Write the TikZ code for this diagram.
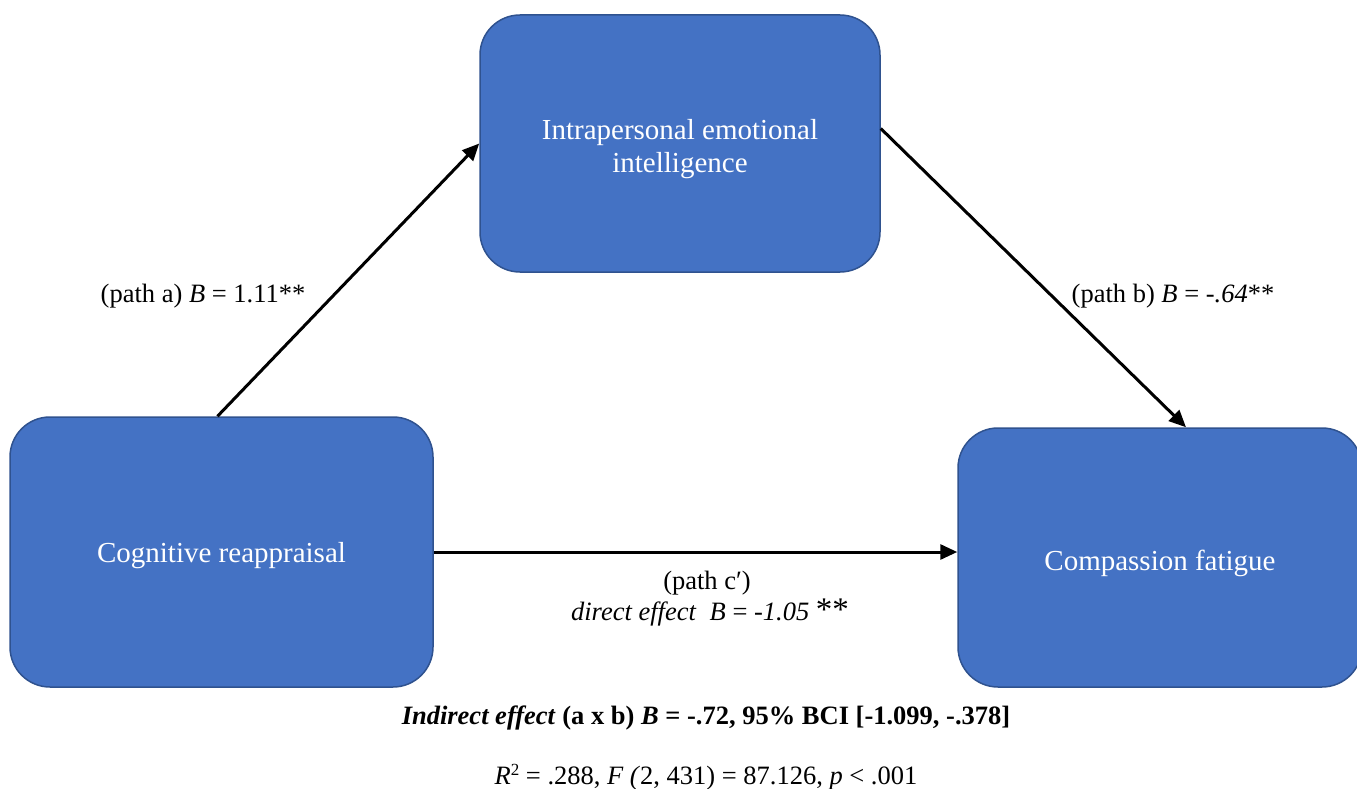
\documentclass[tikz,border=0pt]{standalone}
\usepackage{fontspec}
\setmainfont{Liberation Serif}
\usetikzlibrary{arrows.meta,calc}
\definecolor{boxfill}{HTML}{4472C4}
\definecolor{boxline}{HTML}{2F528F}
\begin{document}
\begin{tikzpicture}[x=1pt,y=-1pt,
  varbox/.style={draw=boxline, line width=1.5pt, fill=boxfill, rounded corners=40pt,
    inner sep=0pt},
  boxtext/.style={text=white, font=\fontsize{29}{33}\selectfont, align=center, inner sep=0pt},
  path arrow/.style={line width=3pt, -{Triangle[length=17pt,width=15pt]}},
  lbl/.style={font=\fontsize{26.5}{30}\selectfont, inner sep=0pt}]
\useasboundingbox (0,0) rectangle (1357,789);

% variables
\node[varbox, minimum width=400pt, minimum height=257pt] (med) at (680,143.5) {};
\node[varbox, minimum width=423pt, minimum height=270pt] (pred) at (221.5,552) {};
\node[varbox, minimum width=404pt, minimum height=259pt] (out) at (1160,557.5) {};
\node[boxtext] (medtext) at ([yshift=-6pt]med.center) {Intrapersonal emotional\\intelligence};
\node[boxtext] (predtext) at ([yshift=-4pt]pred.center) {Cognitive reappraisal};
\node[boxtext] (outtext) at ([yshift=-6pt]out.center) {Compassion fatigue};

% paths
\draw[path arrow] ([xshift=-4pt]pred.north) -- (med.west);
\draw[path arrow] ([yshift=15pt]med.east) -- ([xshift=26pt]out.north);
\draw[path arrow] (pred.east) -- (pred.east -| out.west);

% coefficients
\node[lbl] (la) at (203,296) {(path a) \textit{B} = 1.11**};
\node[lbl] (lb) at (1173,296) {(path b) \textit{B} = \textit{-.64}**};
\node[lbl] (lc1) at (707,583) {(path c′)};
\node[lbl] (lc2) at (710,613) {\textit{direct effect}\ \ \textit{B} = \textit{-1.05} {\fontsize{33}{30}\selectfont **}};
\node[lbl, font=\fontsize{26.5}{30}\selectfont\bfseries] (ind) at (706,718)
  {\textit{Indirect effect} (a x b) \textit{B} = -.72, 95\% BCI [-1.099, -.378]};
\node[lbl] (fit) at (706,777)
  {\textit{R}{\fontsize{17}{20}\selectfont\raisebox{9pt}{2}} = .288, \textit{F (}2, 431) = 87.126, \textit{p} < .001};
\end{tikzpicture}
\end{document}
